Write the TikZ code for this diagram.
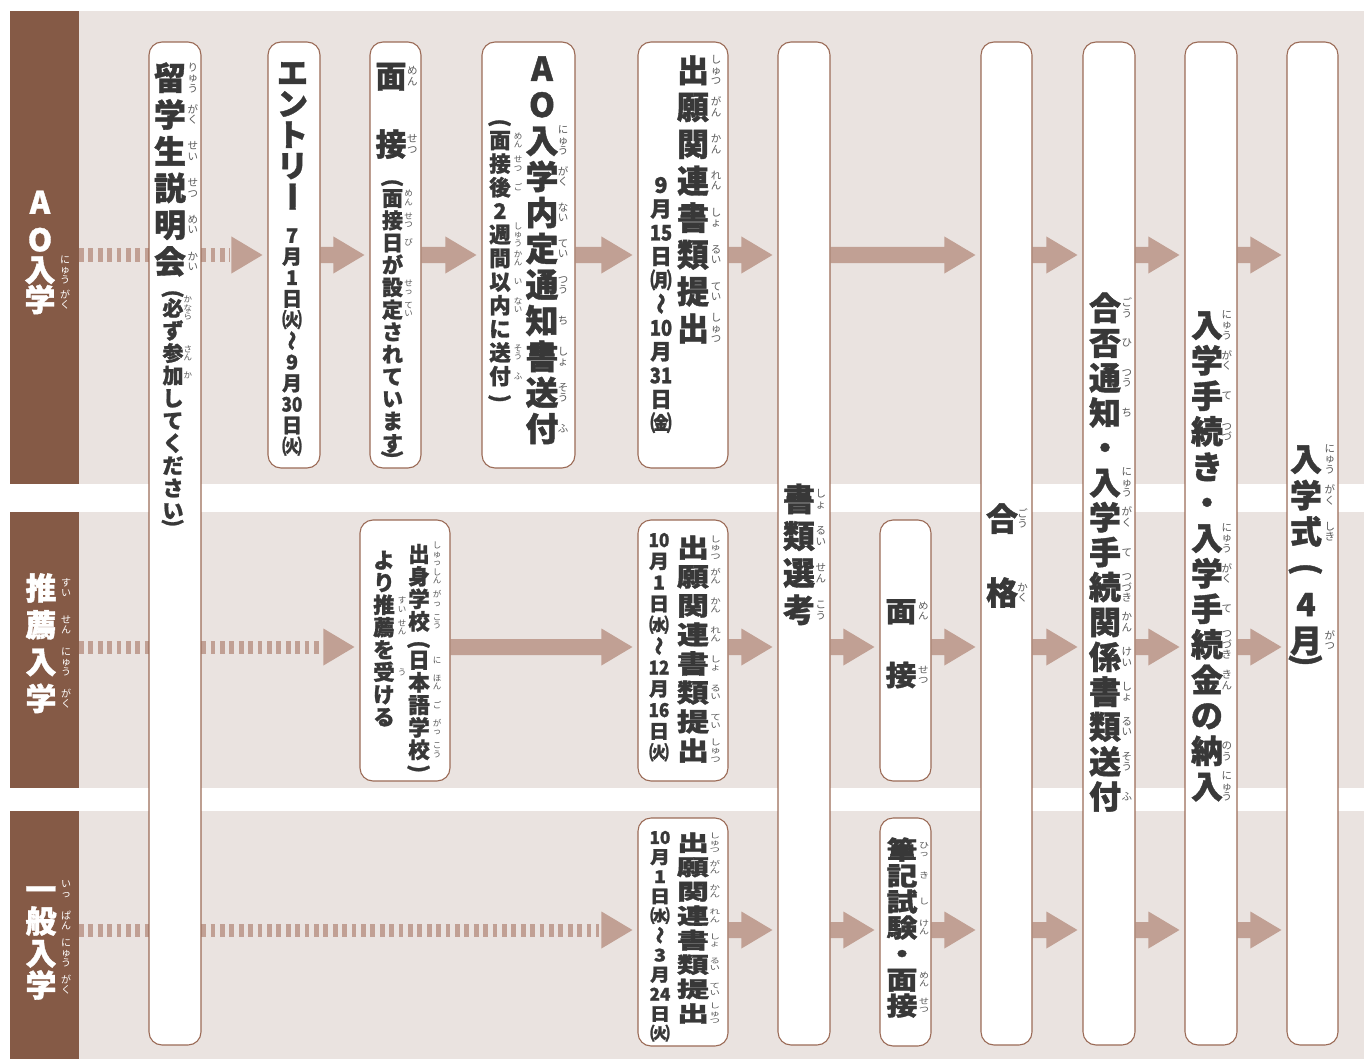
\documentclass[tikz,border=0pt]{standalone}
\usepackage{fontspec}
\usepackage{graphicx}
\usetikzlibrary{calc}
\newfontfamily\jp{Noto Sans CJK JP}[BoldFeatures={FakeBold=1.2}]
\definecolor{bandc}{HTML}{EAE3E0}
\definecolor{brownc}{HTML}{855A46}
\definecolor{arrowc}{HTML}{C1A094}
\definecolor{boxc}{HTML}{9B6B57}
\definecolor{txtc}{HTML}{383838}
\definecolor{rubyc}{HTML}{5A5A5A}
\pgfdeclarelayer{bg}\pgfdeclarelayer{arr}\pgfsetlayers{bg,arr,main}
% vertical text helpers
\newcommand\rk{.55em}
\newcommand\vs{1}
\newcommand\rsz{10pt}
\newcommand\rcol{rubyc}
\newcommand\Kx[1]{\scalebox{1}[\vs]{#1}}
\newcommand\RBline[1]{\hbox to 1em{\hss\vrule height \vs\dimexpr.88em\relax depth \vs\dimexpr.12em\relax width 0pt\relax\Kx{#1}\hss}}
\ExplSyntaxOn
\NewDocumentCommand\RBs{m}{\tl_map_inline:nn{#1}{\RBline{##1}}}
\NewDocumentCommand\KS{m}{\tl_map_inline:nn{#1}{\K{##1}}}
\ExplSyntaxOff
\newcommand\RB[1]{\vbox to 0pt{\vss\fontsize{\rsz}{\rsz}\selectfont\mdseries\color{\rcol}\baselineskip=\vs\dimexpr1em\relax\lineskiplimit=-1000pt\lineskip=0pt\RBs{#1}\vss}}
\newcommand\K[1]{\hbox to 0pt{\hss\Kx{#1}\hss}}
\newcommand\KR[2]{\hbox to 0pt{\hss\Kx{#1}\hss\rlap{\kern\rk\raisebox{\vs\dimexpr.38em\relax}[0pt][0pt]{\RB{#2}}}}}
\newcommand\Pg[2]{\rotatebox[origin=c]{#1}{\hbox to 1em{\hss\vrule height .88em depth .12em width 0pt\relax#2\hss}}}
\newcommand\PO[1][0pt]{\K{\Pg{-90}{(}}\kern-#1\relax}
\newcommand\PC[1][0pt]{\kern-#1\relax\K{\Pg{-90}{)}}}
\newcommand\TL{\Pg{90}{～}}
\newcommand\CH{\Pg{-90}{ー}}
\newcommand\TY[1]{\scalebox{.85}[1]{#1}}
\newcommand\VC[4]{\vtop{\jp\bfseries\fontsize{#1}{#2}\selectfont\baselineskip=#2\relax\lineskiplimit=-1000pt\lineskip=0pt\def\rsz{#3}#4}}
% fat arrows
\newcommand\fat[3]{\fill[arrowc] let \p1=(#1.east|-#3), \p2=(#2.west|-#3) in
  (\x1,\y1+8pt) -- (\x2-36pt,\y1+8pt) -- (\x2-36pt,\y1+18.5pt) -- (\x2-5pt,\y1)
  -- (\x2-36pt,\y1-18.5pt) -- (\x2-36pt,\y1-8pt) -- (\x1,\y1-8pt) -- cycle;}
\newcommand\dfat[3]{\draw[arrowc,line width=13pt,dash pattern=on 4.7pt off 4.7pt]
  let \p1=(#1), \p2=(#2.west|-#3) in (\x1,\y1) -- (\x2-38pt,\y1);
  \fill[arrowc] let \p1=(#1), \p2=(#2.west|-#3) in
  (\x2-36pt,\y1+18.5pt) -- (\x2-5pt,\y1) -- (\x2-36pt,\y1-18.5pt) -- cycle;}
\begin{document}
\begin{tikzpicture}[x=1pt,y=-1pt,
  box/.style={draw=boxc,line width=1.1pt,fill=white,rounded corners=13pt,inner sep=0pt},
  tx/.style={inner sep=0pt,anchor=base,text=txtc},
  lbl/.style={inner sep=0pt,anchor=base,text=white}]
\useasboundingbox (0,0) rectangle (1364,1059);
\begin{pgfonlayer}{bg}
\fill[bandc] (10,11) rectangle (1364,484);
\fill[bandc] (10,512) rectangle (1364,788);
\fill[bandc] (10,811) rectangle (1364,1059);
\fill[brownc] (10,11) rectangle (79,484);
\fill[brownc] (10,512) rectangle (79,788);
\fill[brownc] (10,811) rectangle (79,1059);
\end{pgfonlayer}
% row coordinates
\coordinate (r1) at (0,255);
\coordinate (r2) at (0,647);
\coordinate (r3) at (0,930);
\coordinate (s1) at (79,255);
\coordinate (s2) at (79,647);
\coordinate (s3) at (79,930);
% boxes
\node[box,minimum width=52pt,minimum height=1003pt] (b1) at (175,543.5) {};
\node[box,minimum width=52pt,minimum height=426pt] (b2) at (294,255) {};
\node[box,minimum width=51pt,minimum height=426pt] (b3) at (395.5,255) {};
\node[box,minimum width=93pt,minimum height=426pt] (b4) at (528.5,255) {};
\node[box,minimum width=90pt,minimum height=426pt] (b5) at (683,255) {};
\node[box,minimum width=52pt,minimum height=1003pt] (b6) at (804,543.5) {};
\node[box,minimum width=51pt,minimum height=1003pt] (b7) at (1006.5,543.5) {};
\node[box,minimum width=52pt,minimum height=1003pt] (b8) at (1109,543.5) {};
\node[box,minimum width=52pt,minimum height=1003pt] (b9) at (1211,543.5) {};
\node[box,minimum width=51pt,minimum height=1003pt] (b10) at (1312.5,543.5) {};
\node[box,minimum width=90pt,minimum height=261pt] (c1) at (405,650.5) {};
\node[box,minimum width=90pt,minimum height=261pt] (c2) at (683,650.5) {};
\node[box,minimum width=51pt,minimum height=261pt] (c3) at (905.5,650.5) {};
\node[box,minimum width=90pt,minimum height=228pt] (d1) at (683,932) {};
\node[box,minimum width=51pt,minimum height=228pt] (d2) at (905.5,932) {};
% arrows
\begin{pgfonlayer}{arr}
\dfat{s1}{b2}{r1}
\fat{b2}{b3}{r1}\fat{b3}{b4}{r1}\fat{b4}{b5}{r1}\fat{b5}{b6}{r1}
\fat{b6}{b7}{r1}\fat{b7}{b8}{r1}\fat{b8}{b9}{r1}\fat{b9}{b10}{r1}
\dfat{s2}{c1}{r2}
\fat{c1}{c2}{r2}\fat{c2}{b6}{r2}\fat{b6}{c3}{r2}\fat{c3}{b7}{r2}
\fat{b7}{b8}{r2}\fat{b8}{b9}{r2}\fat{b9}{b10}{r2}
\dfat{s3}{d1}{r3}
\fat{d1}{b6}{r3}\fat{b6}{d2}{r3}\fat{d2}{b7}{r3}
\fat{b7}{b8}{r3}\fat{b8}{b9}{r3}\fat{b9}{b10}{r3}
\end{pgfonlayer}
% left labels
\node[lbl] (L1) at (40,213.8) {\VC{31pt}{30pt}{10pt}{\def\rcol{white}\def\rk{.65em}\K{A}\kern7.5pt\K{O}\KR{入}{にゅう}\KR{学}{がく}}};
\node[lbl] (L2) at (41,599.8) {\VC{31pt}{36.8pt}{10pt}{\def\rcol{white}\def\rk{.65em}\KR{推}{すい}\KR{薦}{せん}\KR{入}{にゅう}\KR{学}{がく}}};
\node[lbl] (L3) at (41,900.8) {\VC{31pt}{32pt}{10pt}{\def\rcol{white}\def\rk{.65em}\KR{一}{いっ}\KR{般}{ぱん}\KR{入}{にゅう}\KR{学}{がく}}};
% box texts
\node[tx] (T1) at (170,90) {\VC{32pt}{36.7pt}{10.5pt}{\KR{留}{りゅう}\KR{学}{がく}\KR{生}{せい}\KR{説}{せつ}\KR{明}{めい}\KR{会}{かい}}};
\node[tx] (T1s) at (173,301) {\VC{21pt}{22.5pt}{8.5pt}{\def\rk{.51em}\PO[7.5pt]\KR{必}{かなら}\K{ず}\KR{参}{さん}\KR{加}{か}\KS{してください}\PC[11pt]}};
\node[tx] (T2) at (292.5,84.3) {\VC{31pt}{31pt}{10pt}{\KS{エントリ}\K{\CH}}};
\node[tx] (T2d) at (292,242.8) {\VC{20pt}{21.1pt}{8pt}{\K{7}\K{月}\K{1}\K{日}\K{㈫}\K{\TL}\K{9}\K{月}\K{\TY{30}}\K{日}\K{㈫}}};
\node[tx] (T3) at (391,87.8) {\VC{31pt}{68pt}{10.5pt}{\def\rk{.52em}\KR{面}{めん}\KR{接}{せつ}}};
\node[tx] (T3s) at (392.5,190) {\VC{21pt}{22.3pt}{8.5pt}{\def\rk{.56em}\PO[6.3pt]\KR{面}{めん}\KR{接}{せつ}\KR{日}{び}\K{が}\KR{設}{せっ}\KR{定}{てい}\KS{されています}\PC[12.1pt]}};
\node[tx] (T4) at (542,81) {\VC{33pt}{36pt}{10.5pt}{\def\rk{.48em}\K{A}\K{O}\KR{入}{にゅう}\KR{学}{がく}\KR{内}{ない}\KR{定}{てい}\KR{通}{つう}\KR{知}{ち}\KR{書}{しょ}\KR{送}{そう}\KR{付}{ふ}}};
\node[tx] (T4s) at (500,130.2) {\VC{21.5pt}{23.6pt}{8.5pt}{\def\rk{.64em}\PO[5.6pt]\KR{面}{めん}\KR{接}{せつ}\KR{後}{ご}\K{2}\KR{週}{しゅう}\KR{間}{かん}\KR{以}{い}\KR{内}{ない}\K{に}\KR{送}{そう}\KR{付}{ふ}\PC[2pt]}};
\node[tx] (T5) at (693,82.2) {\VC{32pt}{36.9pt}{10.5pt}{\def\rk{.56em}\KR{出}{しゅつ}\KR{願}{がん}\KR{関}{かん}\KR{連}{れん}\KR{書}{しょ}\KR{類}{るい}\KR{提}{てい}\KR{出}{しゅつ}}};
\node[tx] (T5d) at (661,192.9) {\VC{21.5pt}{23.8pt}{8pt}{\K{9}\K{月}\K{\TY{15}}\K{日}\K{㈪}\K{\TL}\K{\TY{10}}\K{月}\K{\TY{31}}\K{日}\K{㈮}}};
\node[tx] (T6) at (799,511) {\VC{32pt}{37pt}{10.5pt}{\def\rk{.52em}\KR{書}{しょ}\KR{類}{るい}\KR{選}{せん}\KR{考}{こう}}};
\node[tx] (T7) at (1002,530.7) {\VC{32pt}{74pt}{10.5pt}{\def\rk{.48em}\KR{合}{ごう}\KR{格}{かく}}};
\node[tx] (T8) at (1105,320) {\VC{32pt}{34.9pt}{10.5pt}{\def\rk{.52em}\KR{合}{ごう}\KR{否}{ひ}\KR{通}{つう}\KR{知}{ち}\K{・}\KR{入}{にゅう}\KR{学}{がく}\KR{手}{て}\KR{続}{つづき}\KR{関}{かん}\KR{係}{けい}\KR{書}{しょ}\KR{類}{るい}\KR{送}{そう}\KR{付}{ふ}}};
\node[tx] (T9) at (1207,337) {\VC{32pt}{35.5pt}{10.5pt}{\def\rk{.46em}\KR{入}{にゅう}\KR{学}{がく}\KR{手}{て}\KR{続}{つづ}\K{き}\K{・}\KR{入}{にゅう}\KR{学}{がく}\KR{手}{て}\KR{続}{つづき}\KR{金}{きん}\K{の}\KR{納}{のう}\KR{入}{にゅう}}};
\node[tx] (T10) at (1306,471) {\VC{32pt}{36.3pt}{10.5pt}{\def\rk{.58em}\KR{入}{にゅう}\KR{学}{がく}\KR{式}{しき}\PO\K{4}\KR{月}{がつ}\PC[17.8pt]}};
\node[tx] (C1a) at (419,562) {\VC{21.5pt}{22.5pt}{8.5pt}{\def\rk{.64em}\KR{出}{しゅっ}\KR{身}{しん}\KR{学}{がっ}\KR{校}{こう}\PO[6.5pt]\KR{日}{に}\KR{本}{ほん}\KR{語}{ご}\KR{学}{がっ}\KR{校}{こう}\PC[4.5pt]}};
\node[tx] (C1b) at (384,568.2) {\VC{21.5pt}{22.4pt}{8.5pt}{\def\rk{.64em}\KS{より}\KR{推}{すい}\KR{薦}{せん}\K{を}\KR{受}{う}\KS{ける}}};
\node[tx] (C2) at (693,557.2) {\VC{32pt}{29pt}{10.5pt}{\def\vs{.8}\def\rk{.54em}\KR{出}{しゅつ}\KR{願}{がん}\KR{関}{かん}\KR{連}{れん}\KR{書}{しょ}\KR{類}{るい}\KR{提}{てい}\KR{出}{しゅつ}}};
\node[tx] (C2d) at (659,547) {\VC{20pt}{21.25pt}{8pt}{\def\vs{.95}\K{\TY{10}}\K{月}\K{1}\K{日}\K{㈬}\K{\TL}\K{\TY{12}}\K{月}\K{\TY{16}}\K{日}\K{㈫}}};
\node[tx] (C3) at (901,621.6) {\VC{31pt}{64pt}{10.5pt}{\def\vs{.9}\KR{面}{めん}\KR{接}{せつ}}};
\node[tx] (D1) at (693,850.8) {\VC{32pt}{24.4pt}{10.5pt}{\def\vs{.68}\def\rk{.52em}\KR{出}{しゅつ}\KR{願}{がん}\KR{関}{かん}\KR{連}{れん}\KR{書}{しょ}\KR{類}{るい}\KR{提}{てい}\KR{出}{しゅつ}}};
\node[tx] (D1d) at (660,843.9) {\VC{20pt}{19.6pt}{8pt}{\def\vs{.88}\K{\TY{10}}\K{月}\K{1}\K{日}\K{㈬}\K{\TL}\K{3}\K{月}\K{\TY{24}}\K{日}\K{㈫}}};
\node[tx] (D2) at (902,859.2) {\VC{31pt}{26pt}{10pt}{\def\vs{.82}\KR{筆}{ひっ}\KR{記}{き}\KR{試}{し}\KR{験}{けん}\K{・}\KR{面}{めん}\KR{接}{せつ}}};
\end{tikzpicture}
\end{document}
